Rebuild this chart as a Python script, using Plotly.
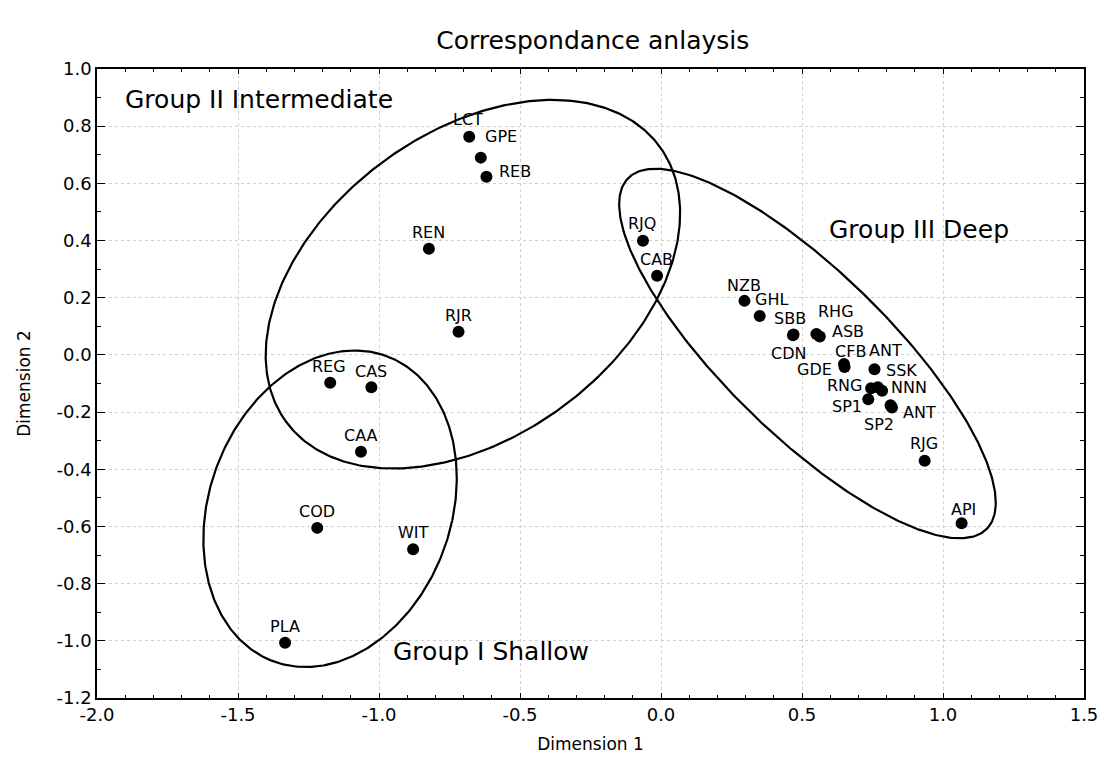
import numpy as np
import plotly.graph_objects as go

# ---------------- data ----------------
labels = ["LCT", "GPE", "REB", "REN", "RJR", "RJQ", "CAB", "REG", "CAS", "CAA",
          "COD", "WIT", "PLA", "NZB", "GHL", "SBB", "CDN", "RHG", "ASB", "CFB",
          "GDE", "ANT", "SSK", "RNG", "NNN", "SP1", "SP2", "ANT", "RJG", "API"]
dim1 = [-0.680, -0.639, -0.619, -0.823, -0.718, -0.064, -0.014, -1.173, -1.027, -1.064,
        -1.219, -0.879, -1.333, 0.296, 0.350, 0.470, 0.468, 0.551, 0.563, 0.649,
        0.651, 0.757, 0.769, 0.745, 0.784, 0.735, 0.814, 0.819, 0.935, 1.066]
dim2 = [0.763, 0.690, 0.623, 0.371, 0.081, 0.399, 0.277, -0.097, -0.113, -0.339,
        -0.605, -0.680, -1.007, 0.189, 0.136, 0.071, 0.069, 0.073, 0.064, -0.032,
        -0.042, -0.050, -0.113, -0.117, -0.125, -0.155, -0.176, -0.184, -0.370, -0.589]

x_tickvals = [-2.0, -1.5, -1.0, -0.5, 0.0, 0.5, 1.0, 1.5]
x_ticktext = ["-2.0", "-1.5", "-1.0", "-0.5", "0.0", "0.5", "1.0", "1.5"]
y_tickvals = [1.0, 0.8, 0.6, 0.4, 0.2, 0.0, -0.2, -0.4, -0.6, -0.8, -1.0, -1.2]
y_ticktext = ["1.0", "0.8", "0.6", "0.4", "0.2", "0.0", "-0.2", "-0.4", "-0.6", "-0.8", "-1.0", "-1.2"]

group_names = ["Group II Intermediate", "Group III Deep", "Group I Shallow"]

# group ellipses: centre (dim1, dim2), semi-axes, rotation (deg) in data units
ell_center = [(-0.6670, 0.2473), (0.5194, 0.0049), (-1.1735, -0.5381)]
ell_axes = [(0.8188, 0.5339), (0.2880, 0.8835), (0.5703, 0.4279)]
ell_angle = [-144.41, 46.16, -111.31]

# ---------------- styling / placement ----------------
# label offsets in pixels (dx right, dy up)
label_offsets = [(-1, 17), (20, 21), (29, 5), (0, 16), (0, 16), (-1, 17), (-1, 16), (-1, 16), (0, 16), (0, 16),
                 (0, 16), (0, 17), (0, 16), (0, 15), (12, 17), (-4, 16), (-4, -18), (20, 23), (28, 5), (6, 13),
                 (-30, -3), (11, 19), (24, 17), (-27, 3), (27, 3), (-21, -7), (-12, -19), (28, -5), (-1, 17), (2, 14)]
group_pos = [(-1.908, 0.892), (0.590, 0.437), (-0.956, -1.039)]

FONT = "DejaVu Sans"
fig = go.Figure()

t = np.linspace(0, 2 * np.pi, 400)
for (cx, cy), (a, b), ang in zip(ell_center, ell_axes, ell_angle):
    th = np.radians(ang)
    ex = cx + a * np.cos(t) * np.cos(th) - b * np.sin(t) * np.sin(th)
    ey = cy + a * np.cos(t) * np.sin(th) + b * np.sin(t) * np.cos(th)
    fig.add_trace(go.Scatter(x=ex, y=ey, mode="lines", line=dict(color="black", width=2.2),
                             hoverinfo="skip", showlegend=False))

fig.add_trace(go.Scatter(x=dim1, y=dim2, mode="markers", text=labels,
                         marker=dict(color="black", size=12), showlegend=False))

for lab, xv, yv, (dx, dy) in zip(labels, dim1, dim2, label_offsets):
    fig.add_annotation(x=xv, y=yv, text=lab, showarrow=False, xshift=dx, yshift=dy,
                       xanchor="center", yanchor="middle", borderpad=0,
                       font=dict(family=FONT, size=16, color="black"))

for name, (gx, gy) in zip(group_names, group_pos):
    fig.add_annotation(x=gx, y=gy, text=name, showarrow=False, xanchor="left", yanchor="middle",
                       font=dict(family=FONT, size=25, color="black"))

axis_common = dict(showline=True, linecolor="black", linewidth=1.5, mirror="allticks",
                   ticks="inside", tickcolor="black", showgrid=True, gridcolor="#cfcfcf",
                   griddash="dot", gridwidth=1, zeroline=False,
                   tickfont=dict(family=FONT, size=18, color="black"))
fig.update_xaxes(range=[-2.0, 1.5], tickvals=x_tickvals, ticktext=x_ticktext, ticklen=5,
                 minor=dict(dtick=0.1, ticks="inside", ticklen=3, tickcolor="black", showgrid=False),
                 title=dict(text="Dimension 1", font=dict(family=FONT, size=17, color="black"), standoff=14),
                 **axis_common)
fig.update_yaxes(range=[-1.2, 1.0], tickvals=y_tickvals, ticktext=y_ticktext, ticklen=8,
                 minor=dict(dtick=0.1, ticks="inside", ticklen=4, tickcolor="black", showgrid=False),
                 title=dict(text="Dimension 2", font=dict(family=FONT, size=17, color="black"), standoff=22),
                 **axis_common)

fig.update_layout(width=1110, height=771, margin=dict(l=97, r=21, t=69, b=73),
                  paper_bgcolor="white", plot_bgcolor="white",
                  title=dict(text="Correspondance anlaysis", x=0.534, xanchor="center", y=0.948,
                             yanchor="middle", font=dict(family=FONT, size=25, color="black")),
                  font=dict(family=FONT))
fig.write_html("out.html")
